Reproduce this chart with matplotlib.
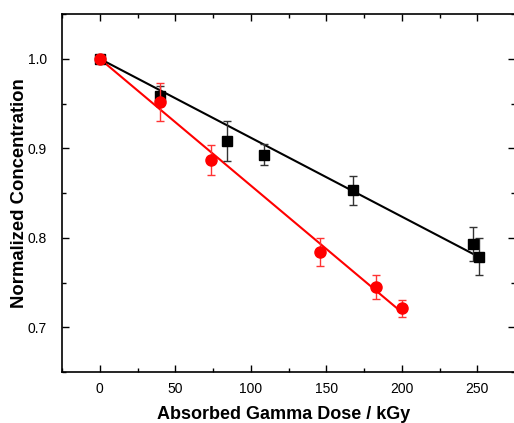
import matplotlib
matplotlib.use('Agg')
import matplotlib.pyplot as plt
import numpy as np
from matplotlib.ticker import MultipleLocator

plt.rcParams['font.family'] = ['Liberation Sans', 'DejaVu Sans']

# black squares
dose_sq = np.array([0, 40, 84, 109, 168, 247, 251])
conc_sq = np.array([1.0, 0.958, 0.908, 0.893, 0.853, 0.793, 0.779])
err_sq = np.array([0.0, 0.011, 0.022, 0.012, 0.016, 0.019, 0.021])

# red circles
dose_ci = np.array([0, 40, 74, 146, 183, 200])
conc_ci = np.array([1.0, 0.952, 0.887, 0.784, 0.745, 0.721])
err_ci = np.array([0.0, 0.021, 0.0165, 0.0155, 0.013, 0.010])


def fit_line(x, y):
    # linear fit forced through (0, 1)
    k = np.sum(x * (y - 1.0)) / np.sum(x * x)
    xx = np.array([0, x.max()])
    return xx, 1.0 + k * xx


fig = plt.figure(figsize=(5.14, 4.23), dpi=100)
ax = fig.add_axes([62 / 514, 51 / 423, 453 / 514, 358 / 423])

xs, ys = fit_line(dose_sq, conc_sq)
ax.plot(xs, ys, color='black', lw=1.5, zorder=2)
xc, yc = fit_line(dose_ci, conc_ci)
ax.plot(xc, yc, color='red', lw=1.5, zorder=2)

ax.errorbar(dose_sq, conc_sq, yerr=err_sq, fmt='s', color='black', ecolor='#333333',
            ms=7, elinewidth=1, capsize=3, capthick=1, zorder=3)
ax.errorbar(dose_ci, conc_ci, yerr=err_ci, fmt='o', color='red', ecolor='#ff3333',
            ms=8, elinewidth=1, capsize=3, capthick=1, zorder=4)

ax.set_xlim(-25, 275)
ax.set_ylim(0.65, 1.05)
ax.xaxis.set_major_locator(MultipleLocator(50))
ax.xaxis.set_minor_locator(MultipleLocator(25))
ax.yaxis.set_major_locator(MultipleLocator(0.1))
ax.yaxis.set_minor_locator(MultipleLocator(0.05))
ax.tick_params(which='both', direction='in', top=True, right=True, labelsize=10, width=1)
ax.tick_params(which='major', length=5)
ax.tick_params(which='minor', length=3)
ax.tick_params(axis='x', which='major', pad=7)
ax.tick_params(axis='y', which='major', pad=11)
for s in ax.spines.values():
    s.set_linewidth(1.2)

ax.set_xlabel('Absorbed Gamma Dose / kGy', fontsize=13, fontweight='bold')
ax.set_ylabel('Normalized Concentration', fontsize=13.3, fontweight='bold')
ax.xaxis.set_label_coords(0.49, -0.095)
ax.yaxis.set_label_coords(-0.075, 0.5)

fig.savefig('out.png', dpi=100)
